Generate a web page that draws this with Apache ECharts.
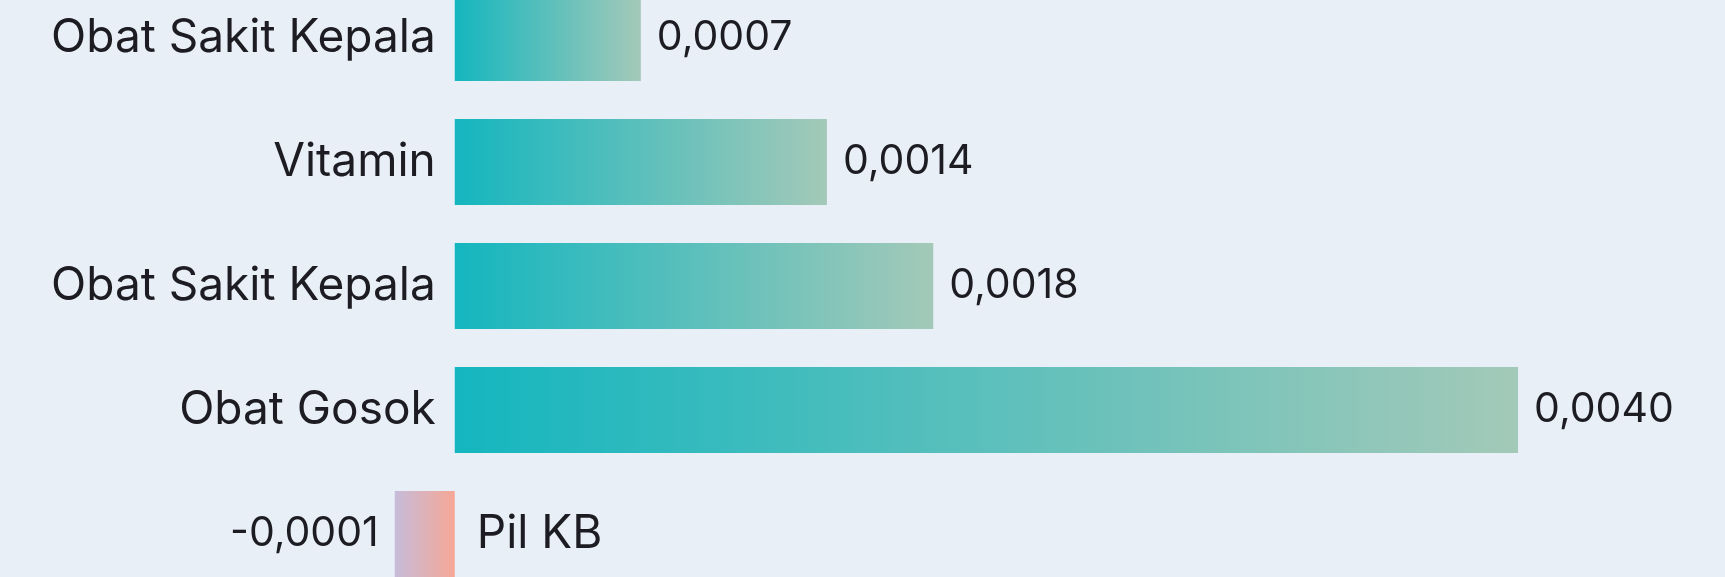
<!DOCTYPE html>
<html>
<head>
<meta charset="utf-8">
<script src="https://cdn.jsdelivr.net/npm/echarts@6/dist/echarts.min.js"></script>
<style>
html,body{margin:0;padding:0;background:#E8EFF7;overflow:hidden;width:1725px;height:577px;}
#chart{position:absolute;left:0;top:-24px;width:1725px;height:620px;}
</style>
</head>
<body>
<div id="chart"></div>
<script>
const categories = ["Obat Sakit Kepala", "Vitamin", "Obat Sakit Kepala", "Obat Gosok", "Pil KB"];
const values = [0.0007, 0.0014, 0.0018, 0.0040, -0.0001];

const FONT = 'Inter';
const posGrad = new echarts.graphic.LinearGradient(0, 0, 1, 0, [
  {offset: 0, color: '#14B6BF'},
  {offset: 1, color: '#A3C9B8'}
]);
const negGrad = new echarts.graphic.LinearGradient(0, 0, 1, 0, [
  {offset: 0, color: '#C6BCDA'},
  {offset: 1, color: '#F6A796'}
]);
const fmt = v => v.toFixed(4).replace('.', ',');

const barData = values.map(v => ({
  value: v,
  itemStyle: {color: v >= 0 ? posGrad : negGrad},
  label: {position: v >= 0 ? 'right' : 'left'}
}));
const nameData = values.map(v => ({
  value: v,
  label: {position: v >= 0 ? 'left' : 'right', distance: v >= 0 ? 19 : 22}
}));

const chart = echarts.init(document.getElementById('chart'), null, {renderer: 'canvas'});
chart.setOption({
  backgroundColor: '#E8EFF7',
  animation: false,
  grid: {left: 56, right: 74, top: 0, bottom: 0, containLabel: false},
  xAxis: {
    type: 'value', min: -0.0015, max: 0.0045,
    show: false
  },
  yAxis: {
    type: 'category', data: categories, inverse: true,
    show: false
  },
  series: [
    {
      type: 'bar', data: barData, barWidth: 86, barGap: '-100%', barMinHeight: 60,
      label: {
        show: true, distance: 16, fontFamily: FONT, fontSize: 41, color: '#1c1c22',
        formatter: p => fmt(p.value)
      }
    },
    {
      type: 'bar', data: nameData, barWidth: 86, barGap: '-100%', barMinHeight: 60,
      silent: true,
      itemStyle: {color: 'rgba(0,0,0,0)'},
      label: {
        show: true, fontFamily: FONT, fontSize: 46, color: '#1c1c22',
        formatter: p => categories[p.dataIndex]
      }
    }
  ]
});
</script>
</body>
</html>
